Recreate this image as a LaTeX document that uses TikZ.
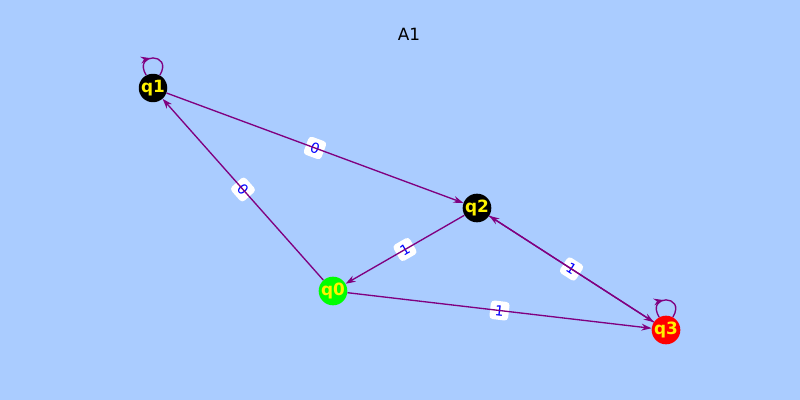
\documentclass[tikz,border=0pt]{standalone}
\usepackage{fontspec}
\setmainfont{DejaVu Sans}
\usetikzlibrary{arrows.meta,decorations.markings}

\definecolor{bgblue}{RGB}{170,204,255}
\definecolor{edgepurple}{RGB}{128,0,128}
\definecolor{stategreen}{RGB}{0,255,0}

\tikzset{
  state/.style={circle, inner sep=0pt, minimum size=0.62cm, text=yellow,
    font=\bfseries\fontsize{12}{14}\selectfont},
  trans/.style={-{Stealth[length=2.5mm,width=1.7mm]}, edgepurple, line width=0.95pt},
  selfloop/.style={edgepurple, line width=0.95pt, postaction={decorate},
    decoration={markings, mark=at position 0.45 with {\arrow{Stealth[length=2.5mm,width=1.7mm]}}}},
  edgelabel/.style={fill=white, rounded corners=2.5pt, text=blue, sloped,
    inner xsep=3.5pt, inner ysep=3pt, font=\fontsize{10}{12}\selectfont}
}

\begin{document}
\begin{tikzpicture}[x=0.025cm, y=-0.025cm]
            \fill[bgblue] (0,0) rectangle (800,400);
            \useasboundingbox (0,0) rectangle (800,400);

            \node (title) at (409,34) {\fontsize{12}{14}\selectfont A1};

            \node[state, fill=stategreen] (q0) at (333,291) {q0};
            \node[state, fill=black] (q1) at (153,88) {q1};
            \node[state, fill=black] (q2) at (477,208) {q2};
            \node[state, fill=red] (q3) at (666,330) {q3};

            % labels first, the lines run over them
            \path (q1) -- node[edgelabel] {0} (q2);
            \path (q0) -- node[edgelabel] {0} (q1);
            \path (q2) -- node[edgelabel] {1} (q0);
            \path (q0) -- node[edgelabel] {1} (q3);
            \path (q2) -- node[edgelabel] {1} (q3);

            \draw[trans] (q1) -- (q2);
            \draw[trans] (q0) -- (q1);
            \draw[trans] (q2) -- (q0);
            \draw[trans] (q0) -- (q3);
            \draw[trans] (q2) -- (q3);
            \draw[trans] (q3) -- (q2);

            \draw[selfloop] (q1.118) .. controls +(-14,-23) and +(14,-23) .. (q1.62);
            \draw[selfloop] (q3.118) .. controls +(-14,-23) and +(14,-23) .. (q3.62);
        \end{tikzpicture}
\end{document}
